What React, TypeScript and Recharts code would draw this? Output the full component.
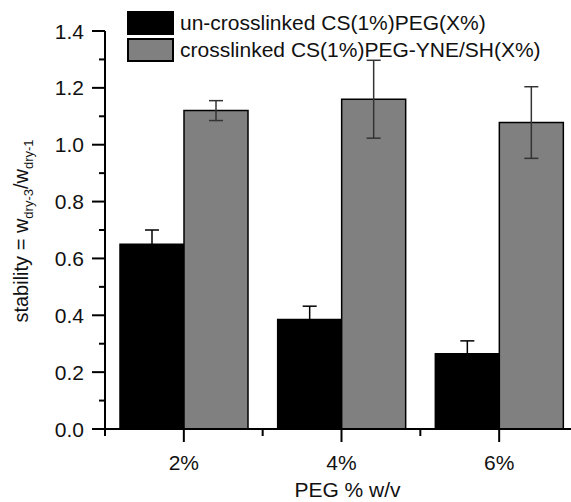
import React from 'react';
import { BarChart, Bar, XAxis, YAxis, Legend, ErrorBar } from 'recharts';

// PEG concentration groups
const categories = ['2%', '4%', '6%'];

// stability ratio
const uncrosslinked = [0.65, 0.385, 0.265];
const uncrosslinkedErr = [0.05, 0.047, 0.045];
const crosslinked = [1.12, 1.16, 1.078];
const crosslinkedErr = [0.035, 0.137, 0.126];

const seriesNames = ['un-crosslinked CS(1%)PEG(X%)', 'crosslinked CS(1%)PEG-YNE/SH(X%)'];

// y ticks every 0.1, labels every 0.2
const yTicks = [0, 0.1, 0.2, 0.3, 0.4, 0.5, 0.6, 0.7, 0.8, 0.9, 1.0, 1.1, 1.2, 1.3, 1.4];

const data = categories.map((c, i) => ({
  peg: c,
  un: uncrosslinked[i],
  unErr: uncrosslinkedErr[i],
  cl: crosslinked[i],
  clErr: crosslinkedErr[i],
}));

const W = 600;
const H = 502;
const MARGIN = { top: 31, right: 22, bottom: 0, left: 0 };
const Y_W = 105;
const X_H = 73;
const PLOT_H = H - MARGIN.top - MARGIN.bottom - X_H;
const BAND = (W - MARGIN.left - MARGIN.right - Y_W) / categories.length;
const FONT = '"Liberation Sans", Arial, sans-serif';
const TXT = '#111';

const Y_TICK = 13;
const Y_MARGIN = 9;
const X_TICK = 13;
const X_MARGIN = 13;

const YTick = (props: any) => {
  const { x, y, payload } = props;
  const v = payload.value as number;
  const major = Math.round(v * 10) % 2 === 0;
  const axisX = x + Y_MARGIN + Y_TICK;
  return (
    <g>
      <line x1={axisX - (major ? 13 : 6)} x2={axisX} y1={y} y2={y} stroke="#000" strokeWidth={2} />
      {major && (
        <text x={x + 1} y={y} dy={7.5} textAnchor="end" fontSize={21} fontFamily={FONT} fill={TXT}>
          {v.toFixed(1)}
        </text>
      )}
    </g>
  );
};

const XTick = (props: any) => {
  const { x, y, payload, index } = props;
  const axisY = y - X_MARGIN - X_TICK;
  const left = x - BAND / 2;
  return (
    <g>
      <line x1={x} x2={x} y1={axisY} y2={axisY + 13} stroke="#000" strokeWidth={2} />
      <line x1={left} x2={left} y1={axisY} y2={axisY + 7} stroke="#000" strokeWidth={2} />
      {index === categories.length - 1 && (
        <line x1={x + BAND / 2} x2={x + BAND / 2} y1={axisY} y2={axisY + 7} stroke="#000" strokeWidth={2} />
      )}
      <text x={x} y={y} dy={15} textAnchor="middle" fontSize={21} fontFamily={FONT} fill={TXT}>
        {payload.value}
      </text>
    </g>
  );
};

const renderLegend = (props: any) => {
  const items = [...(props.payload || [])].sort(
    (a: any, b: any) => seriesNames.indexOf(a.value) - seriesNames.indexOf(b.value)
  );
  return (
    <div style={{ fontFamily: FONT, fontSize: 21, color: TXT }}>
      {items.map((p: any, i: number) => (
        <div key={i} style={{ display: 'flex', alignItems: 'center', height: 24, marginBottom: 2.5, whiteSpace: 'nowrap' }}>
          <div
            style={{
              width: 43,
              height: 20,
              background: p.color,
              border: '2px solid #000',
              marginRight: 6,
            }}
          />
          <span style={{ lineHeight: '24px' }}>{p.value}</span>
        </div>
      ))}
    </div>
  );
};

const YLabel = () => {
  const cx = 28;
  const cy = MARGIN.top + PLOT_H / 2 + 1;
  return (
    <text
      x={cx}
      y={cy}
      transform={`rotate(-90 ${cx} ${cy})`}
      textAnchor="middle"
      fontSize={20}
      fontFamily={FONT}
      fill={TXT}
    >
      <tspan>stability = w</tspan>
      <tspan fontSize={13} dy={5}>dry-3</tspan>
      <tspan dy={-5}>/w</tspan>
      <tspan fontSize={13} dy={5}>dry-1</tspan>
    </text>
  );
};

const XLabel = () => (
  <text
    x={Y_W + MARGIN.left + (BAND * categories.length) / 2 + 6}
    y={MARGIN.top + PLOT_H + 68}
    textAnchor="middle"
    fontSize={21}
    fontFamily={FONT}
    fill={TXT}
  >
    PEG % w/v
  </text>
);

const App: React.FC = () => {
  return (
    <div style={{ position: 'absolute', left: 0, top: 0, width: 571, height: 502, overflow: 'hidden', background: '#fff' }}>
      <BarChart width={W} height={H} data={data} margin={MARGIN} barCategoryGap={15} barGap={0}>
        <XAxis
          dataKey="peg"
          interval={0}
          height={X_H}
          tickSize={X_TICK}
          tickMargin={X_MARGIN}
          tickLine={false}
          axisLine={{ stroke: '#000', strokeWidth: 2 }}
          tick={<XTick />}
          label={{ content: () => <XLabel /> }}
        />
        <YAxis
          type="number"
          domain={[0, 1.4]}
          ticks={yTicks}
          interval={0}
          width={Y_W}
          tickSize={Y_TICK}
          tickMargin={Y_MARGIN}
          tickLine={false}
          axisLine={{ stroke: '#000', strokeWidth: 2 }}
          tick={<YTick />}
          label={{ content: () => <YLabel /> }}
        />
        <Legend
          layout="horizontal"
          verticalAlign="middle"
          align="center"
          content={renderLegend}
          wrapperStyle={{ top: 11, left: 127, width: 'auto', height: 'auto' }}
        />
        <Bar dataKey="un" name={seriesNames[0]} fill="#000" stroke="#000" strokeWidth={1.5} isAnimationActive={false}>
          <ErrorBar dataKey="unErr" direction="y" width={7} stroke="#000" strokeWidth={1.5} />
        </Bar>
        <Bar dataKey="cl" name={seriesNames[1]} fill="#808080" stroke="#000" strokeWidth={1.5} isAnimationActive={false}>
          <ErrorBar dataKey="clErr" direction="y" width={7} stroke="#333" strokeWidth={1.5} />
        </Bar>
      </BarChart>
    </div>
  );
};

export default App;
